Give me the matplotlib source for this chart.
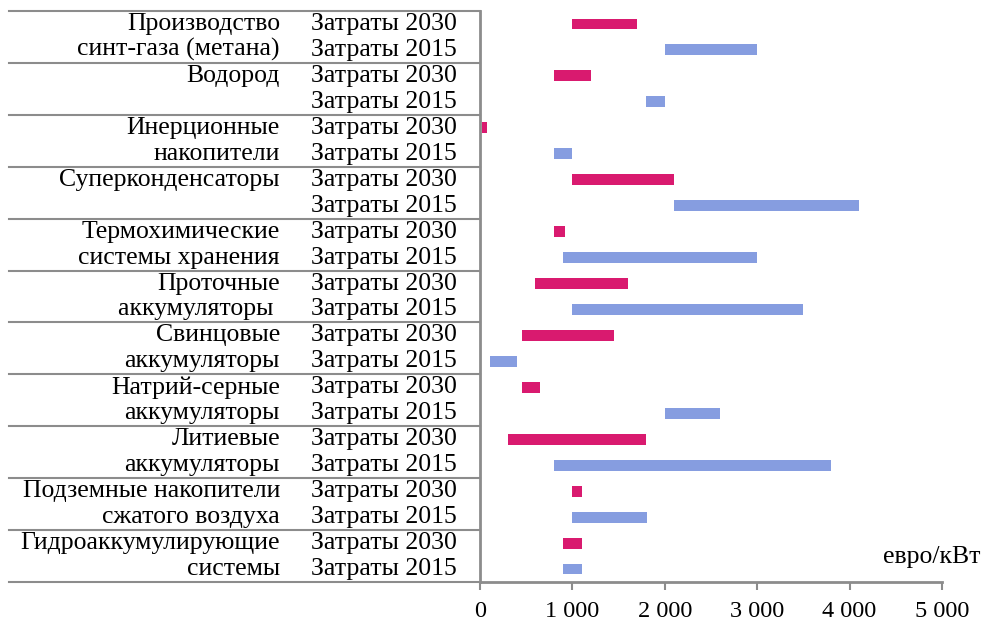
import matplotlib
matplotlib.use("Agg")
import matplotlib.pyplot as plt
import matplotlib.transforms as mtransforms
from matplotlib.ticker import FuncFormatter

plt.rcParams['font.family'] = ['Liberation Serif', 'DejaVu Serif']

# technologies, top to bottom; each name is split into two lines
tech_line1 = ["Производство", "Водород", "Инерционные", "Суперконденсаторы",
              "Термохимические", "Проточные", "Свинцовые", "Натрий-серные",
              "Литиевые", "Подземные накопители", "Гидроаккумулирующие"]
tech_line2 = ["синт-газа (метана)", "", "накопители", "",
              "системы хранения", "аккумуляторы ", "аккумуляторы", "аккумуляторы",
              "аккумуляторы", "сжатого воздуха", "системы"]
series_labels = ["Затраты 2030", "Затраты 2015"]

# cost ranges, евро/кВт
low_2030 = [1000, 800, 20, 1000, 800, 600, 450, 450, 300, 1000, 900]
high_2030 = [1700, 1200, 75, 2100, 920, 1600, 1450, 650, 1800, 1100, 1100]
low_2015 = [2000, 1800, 800, 2100, 900, 1000, 110, 2000, 800, 1000, 900]
high_2015 = [3000, 2000, 1000, 4100, 3000, 3500, 400, 2600, 3800, 1810, 1100]

x_ticks = [0, 1000, 2000, 3000, 4000, 5000]

c2030 = "#D91A6F"
c2015 = "#869DE0"
grey = "#8C8C8C"
fs = 18.5

fig = plt.figure(figsize=(9.84, 6.22), dpi=100)
ax = fig.add_axes([480 / 984, 40 / 622, 462 / 984, 571 / 622])

n = len(tech_line1)
for i in range(n):
    y30 = 2 * i
    y15 = 2 * i + 1
    ax.barh(y30, high_2030[i] - low_2030[i], left=low_2030[i], height=0.42, color=c2030)
    ax.barh(y15, high_2015[i] - low_2015[i], left=low_2015[i], height=0.42, color=c2015)

ax.set_ylim(2 * n - 0.5, -0.5)
ax.set_xlim(0, 5000)
ax.set_yticks([])
ax.set_xticks(x_ticks)
ax.xaxis.set_major_formatter(FuncFormatter(lambda v, p: f"{int(v):,}".replace(",", " ")))
ax.tick_params(axis='x', direction='out', length=6, width=1.5, color=grey,
               labelsize=17.5, pad=8)

for side in ["top", "right"]:
    ax.spines[side].set_visible(False)
for side in ["left", "bottom"]:
    ax.spines[side].set_color(grey)
    ax.spines[side].set_linewidth(2)

# category table on the left
trans = mtransforms.blended_transform_factory(ax.transAxes, ax.transData)
for k in range(n + 1):
    yb = 2 * k - 0.5
    ax.plot([-1.02, 0], [yb, yb], color=grey, lw=1.5, transform=trans, clip_on=False)

for i in range(n):
    ax.text(-0.433, 2 * i, tech_line1[i], ha='right', va='center', fontsize=fs, transform=trans)
    if tech_line2[i]:
        ax.text(-0.433, 2 * i + 1, tech_line2[i], ha='right', va='center', fontsize=fs, transform=trans)
    ax.text(-0.05, 2 * i, series_labels[0], ha='right', va='center', fontsize=fs, transform=trans)
    ax.text(-0.05, 2 * i + 1, series_labels[1], ha='right', va='center', fontsize=fs, transform=trans)

fig.text(980 / 984, 1 - 557 / 622, "евро/кВт", ha='right', va='center', fontsize=fs)

fig.savefig("out.png", dpi=100)
